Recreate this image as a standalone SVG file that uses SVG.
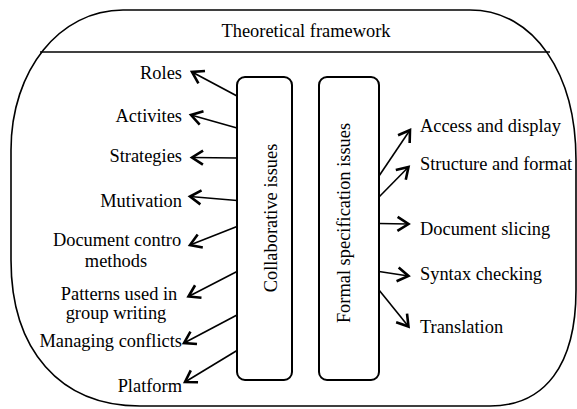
<svg xmlns="http://www.w3.org/2000/svg" width="577" height="409" viewBox="0 0 577 409">
<defs>
<marker id="arr" markerUnits="userSpaceOnUse" markerWidth="30" markerHeight="30" viewBox="-15 -15 30 30" refX="0" refY="0" orient="auto">
<path d="M-11,-7 L0,0 L-11,7" fill="none" stroke="#000" stroke-width="2.6" stroke-linejoin="miter"/>
</marker>
</defs>
<style>
text{font-family:"Liberation Serif","Times New Roman",serif;font-size:18.4px;fill:#000}
.l{text-anchor:end}
.c{text-anchor:middle}
.box{fill:#fff;stroke:#000;stroke-width:2}
.frame{fill:#fff;stroke:#000;stroke-width:1.6}
.arrow{stroke:#000;stroke-width:1.6;fill:none;marker-end:url(#arr)}
</style>
<rect width="577" height="409" fill="#fff"/>
<g id="framework">
<path class="frame" d="M123,10 L470,10 C535,10 576,75 576,160 L576,290 C576,365 545,406 490,406 L140,406 C60,406 11,350 11,260 L11,150 C11,70 60,10 123,10 Z"/>
<line x1="40" y1="52" x2="550" y2="52" stroke="#000" stroke-width="1.6"/>
<text class="c" x="306" y="37">Theoretical framework</text>
</g>
<g id="collaborative">
<rect class="box" x="237" y="77" width="55" height="303" rx="8"/>
<text class="c" transform="translate(277,218) rotate(-90)">Collaborative issues</text>
</g>
<g id="formal">
<rect class="box" x="319" y="77" width="60" height="303" rx="8"/>
<text class="c" transform="translate(350,223) rotate(-90)">Formal specification issues</text>
</g>
<g id="roles"><text class="l" x="182" y="79">Roles</text></g>
<g id="activites"><text class="l" x="182" y="122">Activites</text></g>
<g id="strategies"><text class="l" x="182" y="162">Strategies</text></g>
<g id="mutivation"><text class="l" x="182" y="207">Mutivation</text></g>
<g id="doccontrol"><text class="c" x="117" y="246">Document contro</text><text class="c" x="116" y="266.5">methods</text></g>
<g id="patterns"><text class="c" x="119" y="300">Patterns used in</text><text class="c" x="116" y="319">group writing</text></g>
<g id="conflicts"><text class="l" x="182" y="347">Managing conflicts</text></g>
<g id="platform"><text class="l" x="182" y="391.5">Platform</text></g>
<g id="access"><text x="420" y="131.5">Access and display</text></g>
<g id="structure"><text x="420" y="170">Structure and format</text></g>
<g id="slicing"><text x="420" y="235">Document slicing</text></g>
<g id="syntax"><text x="420" y="280">Syntax checking</text></g>
<g id="translation"><text x="420" y="333">Translation</text></g>
<g id="connectors">
<line class="arrow" x1="237" y1="96" x2="192" y2="72"/>
<line class="arrow" x1="237" y1="128" x2="191" y2="115"/>
<line class="arrow" x1="237" y1="158" x2="192" y2="157.5"/>
<line class="arrow" x1="237" y1="200.5" x2="190" y2="196.5"/>
<line class="arrow" x1="237" y1="226.5" x2="190" y2="245"/>
<line class="arrow" x1="237" y1="271.5" x2="188.5" y2="296.5"/>
<line class="arrow" x1="237" y1="315" x2="184" y2="343"/>
<line class="arrow" x1="237" y1="350.5" x2="185" y2="382"/>
<line class="arrow" x1="379" y1="176" x2="410" y2="130"/>
<line class="arrow" x1="379" y1="197" x2="408.5" y2="167"/>
<line class="arrow" x1="379" y1="223.5" x2="408.5" y2="224"/>
<line class="arrow" x1="379" y1="271.5" x2="408.5" y2="276"/>
<line class="arrow" x1="379" y1="290" x2="408.5" y2="326.5"/>
</g>
</svg>
